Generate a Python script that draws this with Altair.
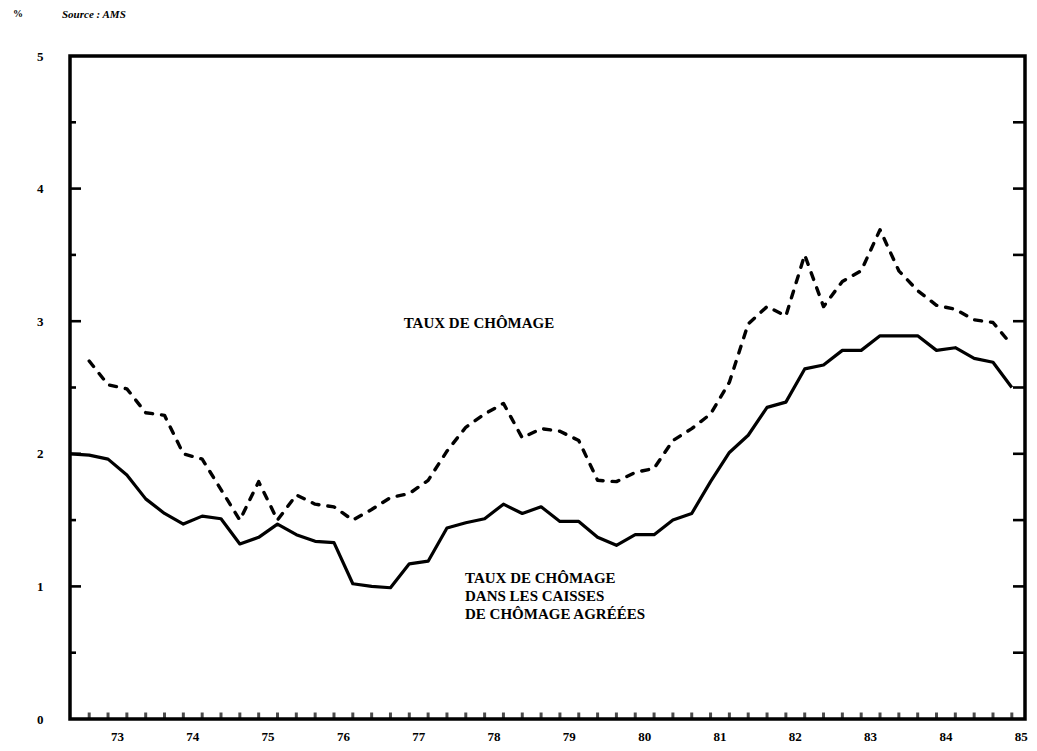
import altair as alt
import pandas as pd

# ---- data (quarterly, 1972 T4 .. 1985 T2) ----
years = list(range(1972, 1986))
periods = [f"{y}-T{q}" for y in years for q in range(1, 5)][3:54]

# Taux de chômage dans les caisses de chômage agréées (solid)
caisses = [2.00, 1.99, 1.96, 1.84, 1.66, 1.55, 1.47, 1.53, 1.51, 1.32,
           1.37, 1.47, 1.39, 1.34, 1.33, 1.02, 1.00, 0.99, 1.17, 1.19,
           1.44, 1.48, 1.51, 1.62, 1.55, 1.60, 1.49, 1.49, 1.37, 1.31,
           1.39, 1.39, 1.50, 1.55, 1.79, 2.01, 2.14, 2.35, 2.39, 2.64,
           2.67, 2.78, 2.78, 2.89, 2.89, 2.89, 2.78, 2.80, 2.72, 2.69,
           2.50]

# Taux de chômage (dashed), starts 1973 T1
taux = [None,
        2.70, 2.52, 2.49, 2.31, 2.29, 2.00, 1.96, 1.73, 1.50, 1.79,
        1.50, 1.69, 1.62, 1.60, 1.50, 1.58, 1.67, 1.70, 1.80, 2.02,
        2.20, 2.30, 2.38, 2.12, 2.19, 2.17, 2.10, 1.80, 1.79, 1.86,
        1.89, 2.10, 2.19, 2.30, 2.54, 2.98, 3.11, 3.04, 3.50, 3.11,
        3.30, 3.38, 3.69, 3.38, 3.23, 3.12, 3.09, 3.01, 2.99, 2.82]

year_labels = ["73", "74", "75", "76", "77", "78", "79", "80", "81", "82", "83", "84", "85"]
y_values = [0, 1, 2, 3, 4, 5]
y_ticks_int = [1, 2, 3, 4]
y_ticks_half = [0.5, 1.5, 2.5, 3.5, 4.5]

label_top = "TAUX DE CHÔMAGE"
label_bottom = ["TAUX DE CHÔMAGE", "DANS LES CAISSES", "DE CHÔMAGE AGRÉÉES"]


def period_pos(p):
    y, q = p.split("-T")
    return int(y) + (int(q) - 0.5) / 4


t = [period_pos(p) for p in periods]
df_solid = pd.DataFrame({"t": t, "v": caisses, "periode": periods})
df_dash = pd.DataFrame({"t": t, "v": taux, "periode": periods}).dropna()
df_qticks = pd.DataFrame({"t": t[1:]})
df_years = pd.DataFrame({"t": [1900 + int(s) + 0.5 for s in year_labels], "lab": year_labels})
df_yint = pd.DataFrame({"v": y_ticks_int})
df_yhalf = pd.DataFrame({"v": y_ticks_half})
df_ann1 = pd.DataFrame({"t": [1978.30], "v": [2.99], "txt": [label_top]})
df_ann2 = pd.DataFrame({"t": [1978.115] * 3, "v": [1.063, 0.928, 0.792], "txt": label_bottom})

W, H = 955, 663
FONT = "Liberation Serif"

xs = alt.Scale(domain=[1972.87, 1985.55], nice=False, zero=False)
ys = alt.Scale(domain=[0, 5], nice=False, zero=False)

X = alt.X("t:Q", scale=xs, axis=None)
Y = alt.Y("v:Q", scale=ys, axis=alt.Axis(values=y_values, format="d", domain=False, ticks=False,
                                          grid=False, labelPadding=27, labelFont=FONT,
                                          labelFontWeight="bold", labelFontSize=13,
                                          labelColor="black", title=None))

solid = alt.Chart(df_solid).mark_line(color="black", strokeWidth=3.2, strokeJoin="round").encode(x=X, y=Y)
dashed = alt.Chart(df_dash).mark_line(color="black", strokeWidth=3.4, strokeDash=[7, 9],
                                      strokeCap="round", strokeJoin="round").encode(
    x=X, y=alt.Y("v:Q", scale=ys))

qticks = alt.Chart(df_qticks).mark_tick(color="black", thickness=3, size=7, orient="vertical").encode(
    x=alt.X("t:Q", scale=xs), y=alt.value(H - 3))

xlab = alt.Chart(df_years).mark_text(font=FONT, fontWeight="bold", fontSize=13, color="black",
                                     baseline="top").encode(
    x=alt.X("t:Q", scale=xs), y=alt.value(H + 12), text="lab:N")

lt_int = alt.Chart(df_yint).mark_rule(color="black", strokeWidth=2.6).encode(
    y=alt.Y("v:Q", scale=ys), x=alt.value(0), x2=alt.value(11))
lt_half = alt.Chart(df_yhalf).mark_rule(color="black", strokeWidth=2.6).encode(
    y=alt.Y("v:Q", scale=ys), x=alt.value(0), x2=alt.value(6))
rt_all = alt.Chart(pd.concat([df_yint, df_yhalf])).mark_rule(color="black", strokeWidth=2.6).encode(
    y=alt.Y("v:Q", scale=ys), x=alt.value(W - 12), x2=alt.value(W))

ann1 = alt.Chart(df_ann1).mark_text(font=FONT, fontWeight="bold", fontSize=15, color="black",
                                    align="center").encode(
    x=alt.X("t:Q", scale=xs), y=alt.Y("v:Q", scale=ys), text="txt:N")
ann2 = alt.Chart(df_ann2).mark_text(font=FONT, fontWeight="bold", fontSize=15, color="black",
                                    align="left").encode(
    x=alt.X("t:Q", scale=xs), y=alt.Y("v:Q", scale=ys), text="txt:N")

pct = alt.Chart(pd.DataFrame({"s": ["%"]})).mark_text(font=FONT, fontWeight="bold", fontSize=10,
                                                     color="black").encode(
    x=alt.value(-52), y=alt.value(-42), text="s:N")
source = alt.Chart(pd.DataFrame({"s": ["Source : AMS"]})).mark_text(
    font=FONT, fontWeight="bold", fontStyle="italic", fontSize=11, color="black", align="left").encode(
    x=alt.value(-8), y=alt.value(-41), text="s:N")

chart = alt.layer(solid, dashed, qticks, xlab, lt_int, lt_half, rt_all, ann1, ann2, pct, source).properties(
    width=W, height=H,
    autosize=alt.AutoSizeParams(type="none"),
    padding={"left": 62, "top": 48, "right": 3, "bottom": 24},
    background="white",
).configure_view(stroke="black", strokeWidth=3.5)

chart.save("out.html", embed_options={"renderer": "svg", "actions": False})
